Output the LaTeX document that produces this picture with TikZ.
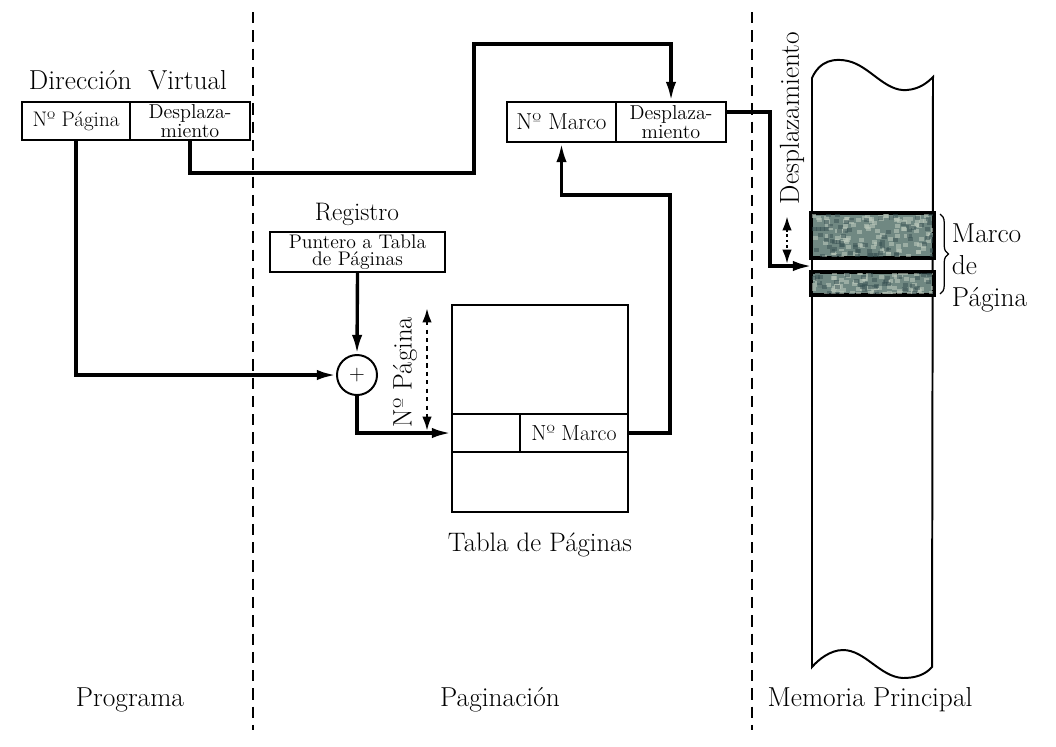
\documentclass[tikz,border=0pt]{standalone}
\usepackage{fontspec}
\usetikzlibrary{arrows.meta,decorations.pathreplacing}
\definecolor{frameshade}{RGB}{112,136,130}
\definecolor{specklight}{RGB}{185,198,186}
\definecolor{speckdark}{RGB}{55,80,82}
\begin{document}
\begin{tikzpicture}[x=0.025cm,y=-0.025cm,
    cell/.style={draw,line width=1.4pt,minimum height=0.95cm,inner sep=0pt,align=center},
    frame/.style={draw,line width=2pt,fill=frameshade,minimum width=3.025cm,inner sep=0pt},
    conn/.style={line width=2.4pt,-{Latex[length=4.8mm,width=2.6mm]}},
    span/.style={line width=1.8pt,{Latex[length=3.6mm,width=2.4mm]}-{Latex[length=3.6mm,width=2.4mm]}},
    divider/.style={line width=1.4pt,dash pattern=on 8pt off 5pt},
    title/.style={font=\fontsize{19.5}{23}\selectfont},
    boxtxt/.style={font=\fontsize{15.5}{15}\selectfont},
    twoline/.style={font=\fontsize{14.3}{11}\selectfont}]
    \useasboundingbox (0,0) rectangle (1056,746);
    % separators
    \draw[divider] (253,12) -- (253,730);
    \draw[divider] (752,12) -- (752,730);
    % virtual address
    \node[title] (vtit) at (128,80) {Dirección\ \ Virtual};
    \node[cell,font=\fontsize{15}{15}\selectfont,minimum width=2.7cm] (vpag) at (76,121) {Nº Página};
    \node[cell,twoline,minimum width=3cm] (vdes) at (190,121) {Desplaza-\\miento};
    % real address
    \node[cell,font=\fontsize{16.4}{16}\selectfont,minimum width=2.725cm,minimum height=1cm] (mmar) at (561.5,122) {Nº Marco};
    \node[cell,twoline,minimum width=2.75cm,minimum height=1cm] (mdes) at (671,122) {Desplaza-\\miento};
    % register and adder
    \node[title,font=\fontsize{18}{20}\selectfont] (regt) at (357,214) {Registro};
    \node[cell,font=\fontsize{14}{12.5}\selectfont,minimum width=4.375cm,minimum height=1cm] (reg) at (357.5,252) {Puntero a Tabla\\de Páginas};
    \node[draw,circle,line width=1.4pt,minimum size=1cm,inner sep=0pt,boxtxt] (sum) at (357,375) {+};
    % page table
    \node[draw,line width=1.4pt,minimum width=4.4cm,minimum height=5.175cm] (tabla) at (540,408.5) {};
    \node[cell,minimum width=1.7cm] (tfil) at (486,433) {};
    \node[cell,boxtxt,minimum width=2.7cm] (tmar) at (574,433) {Nº Marco};
    \node[title,font=\fontsize{19}{22}\selectfont] (ttit) at (540,545) {Tabla de Páginas};
    \node[title,font=\fontsize{19}{22}\selectfont,rotate=90] (plbl) at (405,372) {Nº Página};
    \draw[span,dashed] (427,308) -- (427,431);
    % main memory
    \draw[line width=1.4pt] (812,78) .. controls (820,60) and (835,58) .. (848,61)
        .. controls (870,66) and (885,92) .. (907,90) .. controls (920,89) and (928,82) .. (933,77)
        -- (932,667) .. controls (925,675) and (915,678) .. (903,678)
        .. controls (880,677) and (865,650) .. (843,650) .. controls (830,650) and (818,660) .. (812,667) -- cycle;
    \node[frame,minimum height=1.075cm] (marco) at (872.5,235.5) {};
    \node[frame,minimum height=0.525cm] (marco2) at (872.5,283.5) {};
    \pgfmathsetseed{17}
    \begin{scope}
        \clip (marco.south west) rectangle (marco.north east) (marco2.south west) rectangle (marco2.north east);
        \foreach \i in {1,...,220} {
            \pgfmathsetmacro\px{810+125*rnd}
            \pgfmathsetmacro\py{212+84*rnd}
            \fill[specklight,opacity=0.6] (\px,\py) rectangle ++(5,4);
        }
        \foreach \i in {1,...,160} {
            \pgfmathsetmacro\px{810+125*rnd}
            \pgfmathsetmacro\py{212+84*rnd}
            \fill[speckdark,opacity=0.5] (\px,\py) rectangle ++(5,4);
        }
    \end{scope}
    \draw[line width=2pt] (marco.south west) rectangle (marco.north east);
    \draw[line width=2pt] (marco2.south west) rectangle (marco2.north east);
    \draw[decorate,decoration={brace,amplitude=6pt},line width=0.9pt] (940,214) -- (940,294);
    \node[title,align=left,anchor=west] (mtxt) at (947,268) {Marco\\de\\Página};
    \node[title,rotate=90] (dlbl) at (792,118) {Desplazamiento};
    \draw[span,dotted] (787,216) -- (787,264);
    % connectors
    \coordinate (over) at (474,44);
    \coordinate (back) at (670,195);
    \coordinate (drop) at (770,266);
    \coordinate (memin) at (812,266);
    \draw[conn] (vpag.south) |- (sum.west);
    \draw[conn] (reg.south) -- (sum.north);
    \draw[conn] (sum.south) |- (tfil.west);
    \draw[conn] (vdes.south) -- ++(0,32) -| (over) -| (mdes.north);
    \draw[conn] (tmar.east) -| (back) -| (mmar.south);
    \draw[conn] ([yshift=0.25cm]mdes.east) -| (drop) -- (memin);
    % section names
    \node[title] (prog) at (130,700) {Programa};
    \node[title] (pagi) at (500,700) {Paginación};
    \node[title] (memp) at (870,700) {Memoria Principal};
\end{tikzpicture}
\end{document}
